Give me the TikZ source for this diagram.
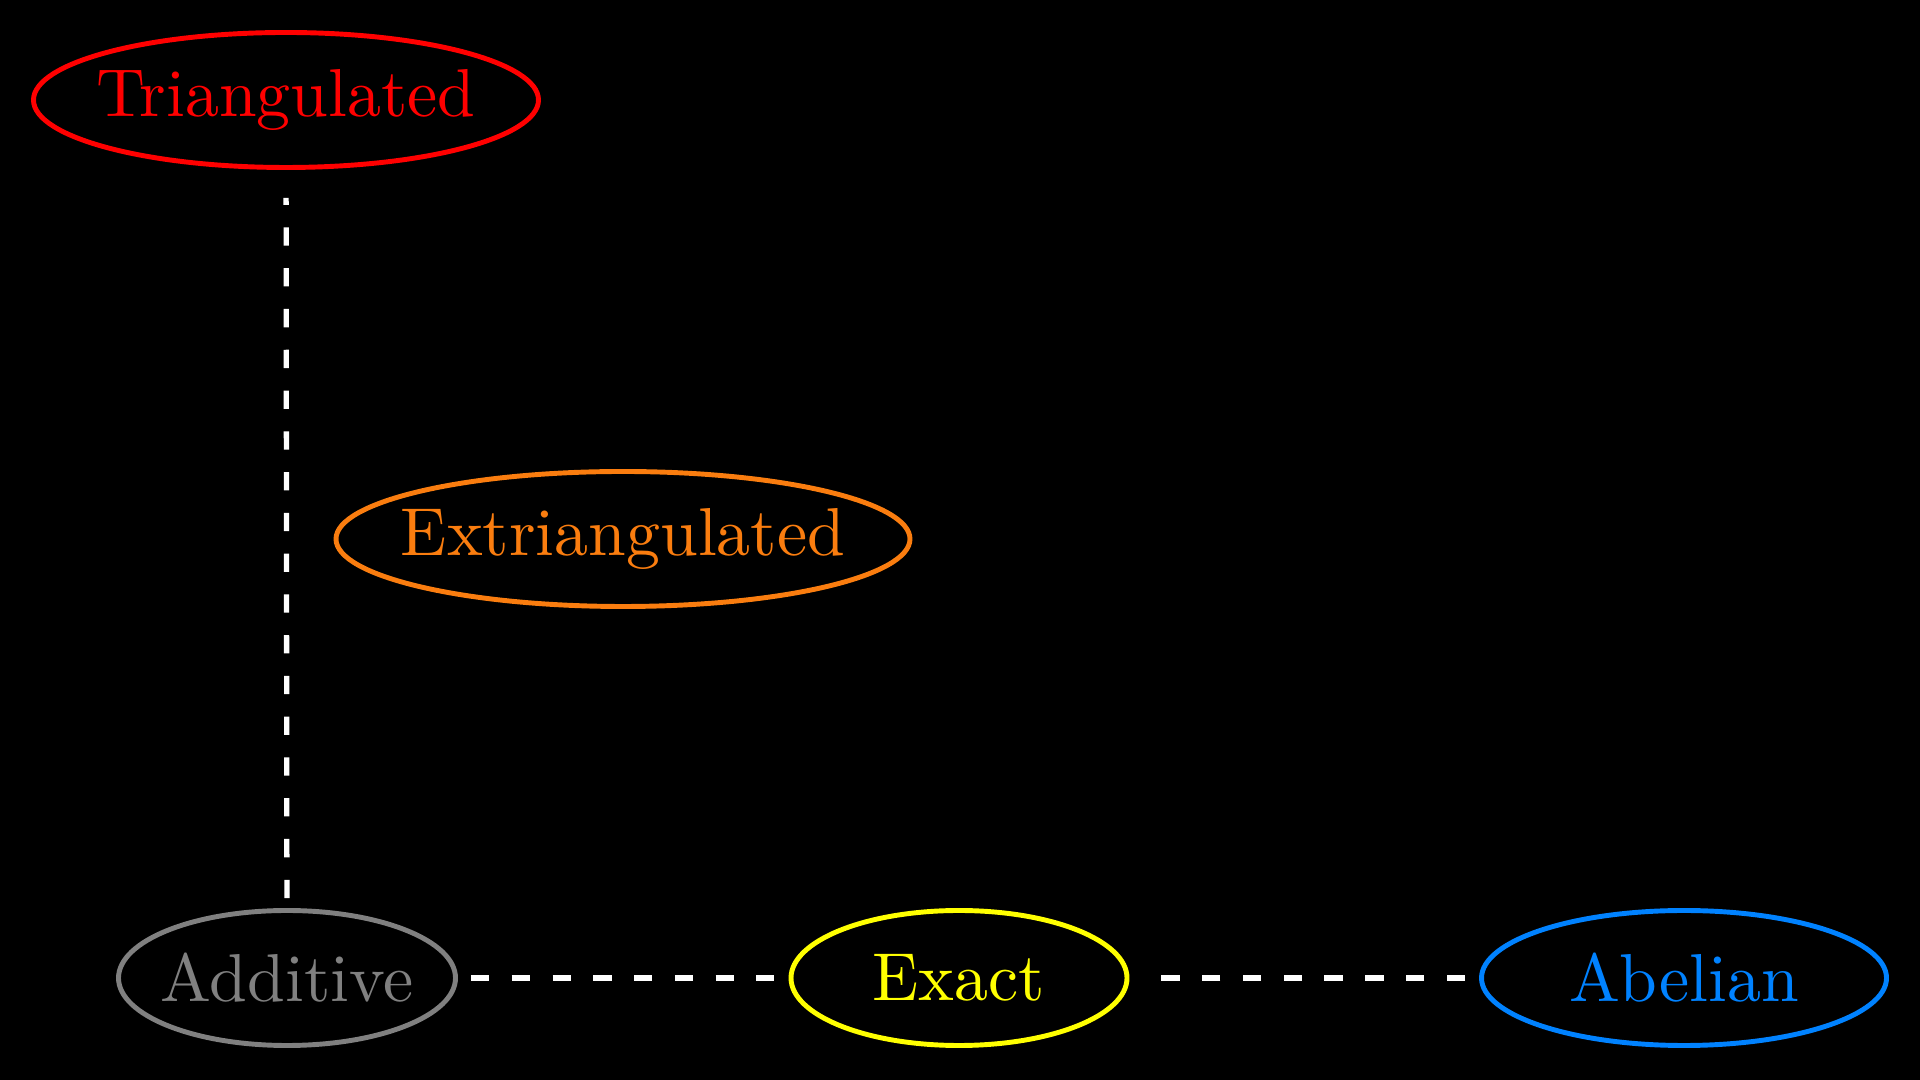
\documentclass[tikz,border=0pt]{standalone}
\usetikzlibrary{shapes.geometric}
\definecolor{cred}{RGB}{255,0,0}
\definecolor{corange}{RGB}{250,125,15}
\definecolor{cgray}{RGB}{128,128,128}
\definecolor{cyellow}{RGB}{255,255,0}
\definecolor{cblue}{RGB}{0,130,255}
\newcommand{\bigtxt}[1]{\makebox[0pt]{\scalebox{1.93}{#1}}}
\begin{document}
\begin{tikzpicture}[
  cat/.style={ellipse, draw, line width=1.4pt, inner sep=0pt, minimum height=1.35cm},
  link/.style={draw=white, line width=1.5pt, dash pattern=on 5.2pt off 6.4pt}
]
\fill[black] (0,0) rectangle (19.2,10.8);
\useasboundingbox (0,0) rectangle (19.2,10.8);
\node[cat, draw=cred, text=cred, minimum width=5.05cm] (tri) at (2.86,9.80) {\bigtxt{Triangulated}};
\node[cat, draw=corange, text=corange, minimum width=5.74cm] (ext) at (6.23,5.41) {\bigtxt{Extriangulated}};
\node[cat, draw=cgray, text=cgray, minimum width=3.37cm] (add) at (2.87,1.02) {\bigtxt{Additive}};
\node[cat, draw=cyellow, text=cyellow, minimum width=3.36cm] (exa) at (9.59,1.02) {\bigtxt{Exact}};
\node[cat, draw=cblue, text=cblue, minimum width=4.05cm] (abe) at (16.84,1.02) {\bigtxt{Abelian}};
\draw[link, shorten <=0.1cm, shorten >=0.28cm] (add) -- (tri);
\draw[link, shorten <=0.13cm, shorten >=0.15cm] (add) -- (exa);
\draw[link, shorten <=0.14cm, shorten >=0.15cm] (abe) -- (exa);
\end{tikzpicture}
\end{document}
